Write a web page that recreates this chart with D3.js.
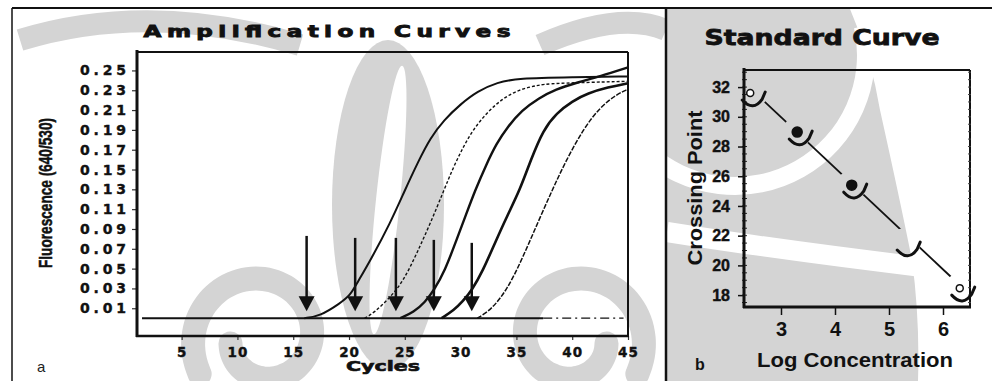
<!DOCTYPE html>
<html>
<head>
<meta charset="utf-8">
<script src="https://cdnjs.cloudflare.com/ajax/libs/d3/7.8.5/d3.min.js"></script>
<style>
  html, body { margin: 0; padding: 0; background: #fff; }
  svg { display: block; }
</style>
</head>
<body>
<div id="chart"></div>
<script>
// --- amplification curves: [cycle, fluorescence 640/530] ---
const curve1 = [[16.0, 0], [17.4, 0.002], [19.2, 0.015], [20.1, 0.023], [20.7, 0.035], [21.9, 0.058],
  [23.7, 0.096], [25.0, 0.129], [26.2, 0.158], [27.3, 0.182], [28.5, 0.200], [30.0, 0.216],
  [31.5, 0.229], [33.3, 0.238], [35.1, 0.242], [40.0, 0.243], [45.0, 0.244]];
const curve2 = [[21.4, 0], [22.2, 0.005], [23.7, 0.021], [24.9, 0.038], [26.1, 0.066], [27.3, 0.096],
  [28.5, 0.129], [29.3, 0.151], [30.2, 0.172], [31.1, 0.190], [32.4, 0.208], [33.8, 0.222],
  [35.3, 0.231], [36.9, 0.235], [38.0, 0.237], [45.0, 0.239]];
const curve3 = [[24.6, 0], [25.8, 0.006], [26.8, 0.016], [27.6, 0.028], [28.6, 0.048], [29.6, 0.078],
  [30.5, 0.105], [31.3, 0.129], [32.3, 0.155], [33.2, 0.176], [34.2, 0.193], [35.5, 0.210],
  [37.0, 0.222], [38.5, 0.231], [40.5, 0.238], [42.5, 0.244], [45.0, 0.253]];
const curve4 = [[28.3, 0], [29.4, 0.008], [30.2, 0.017], [31.0, 0.028], [32.0, 0.048], [33.0, 0.074],
  [34.2, 0.104], [35.3, 0.129], [36.3, 0.160], [37.4, 0.190], [38.6, 0.207], [40.0, 0.219],
  [41.4, 0.227], [43.2, 0.233], [45.0, 0.237]];
const curve5 = [[31.5, 0], [32.7, 0.008], [34.2, 0.029], [35.6, 0.062], [36.9, 0.096], [38.2, 0.129],
  [39.4, 0.158], [41.0, 0.191], [42.5, 0.213], [44.0, 0.226], [45.0, 0.231]];
const baselineSolid = [[1.45, 0], [37.4, 0]];
const baselineNeg = [[37.4, 0], [44.6, 0]];

// crossing-point arrows
const arrowCycles = [16.2, 20.55, 24.2, 27.6, 31.0];
const arrowTops = [0.083, 0.081, 0.081, 0.079, 0.076];
const arrowTip = 0.007;

const ampYTicks = [0.01, 0.03, 0.05, 0.07, 0.09, 0.11, 0.13, 0.15, 0.17, 0.19, 0.21, 0.23, 0.25];
const ampXTicks = [5, 10, 15, 20, 25, 30, 35, 40, 45];

// --- standard curve ---
const logConc = [2.43, 3.30, 4.31, 5.30, 6.31];
const crossingPoint = [31.6, 28.97, 25.4, 21.5, 18.47];
const markerKind = ['open', 'filled', 'filled', 'none', 'open'];
const fitEnds = [[2.70, 31.0], [6.17, 19.15]];
const stdYTicks = [18, 20, 22, 24, 26, 28, 30, 32];
const stdXTicks = [3, 4, 5, 6];

const W = 992, H = 381;
const svg = d3.select('#chart').append('svg')
  .attr('width', W).attr('height', H)
  .attr('xmlns', 'http://www.w3.org/2000/svg');
const defs = svg.append('defs');

const BOLD = 'DejaVu Sans, Verdana, sans-serif';
const ARIAL = 'Liberation Sans, Arial, sans-serif';
const INK = '#111';
const WATERMARK = '#d4d4d4';

// faint scanned watermark behind both panels (rough swirls)
function drawWatermark() {
  const g = svg.append('g').attr('class', 'watermark');
  const spiral = (cx, cy, dir) => {
    const pts = d3.range(0, 1.001, 0.02).map(t => {
      const a = (150 + t * 380) * Math.PI / 180;
      const r = 72 - t * 40;
      return [cx + dir * r * Math.cos(a), cy + r * Math.sin(a)];
    });
    return d3.line().curve(d3.curveBasis)(pts);
  };
  g.append('path').attr('d', spiral(262, 338, 1))
    .attr('fill', 'none').attr('stroke', WATERMARK).attr('stroke-width', 24).attr('stroke-linecap', 'round');
  g.append('path').attr('d', spiral(575, 338, -1))
    .attr('fill', 'none').attr('stroke', WATERMARK).attr('stroke-width', 24).attr('stroke-linecap', 'round');

  // central leaf with a white slit
  g.append('ellipse').attr('cx', 388).attr('cy', 205).attr('rx', 56).attr('ry', 165).attr('fill', WATERMARK);
  g.append('ellipse').attr('cx', 388).attr('cy', 200).attr('rx', 12).attr('ry', 135)
    .attr('transform', 'rotate(6,388,200)').attr('fill', '#fff');

  // sweeping bands near the top of the left panel
  g.append('path').attr('d', 'M20,40 Q150,0 300,45')
    .attr('fill', 'none').attr('stroke', WATERMARK).attr('stroke-width', 22);
  g.append('path').attr('d', 'M540,45 Q620,10 666,30')
    .attr('fill', 'none').attr('stroke', WATERMARK).attr('stroke-width', 22);

  // right panel: mostly grey on the left with white ribbons through it
  defs.append('clipPath').attr('id', 'right-panel')
    .append('rect').attr('x', 667).attr('y', 9).attr('width', W - 667).attr('height', H - 9);
  const r = g.append('g').attr('clip-path', 'url(#right-panel)');
  r.append('path')
    .attr('d', 'M667,9 L850,9 Q872,60 880,110 Q900,200 912,260 Q920,320 918,381 L667,381 Z')
    .attr('fill', WATERMARK);
  r.append('path')
    .attr('d', d3.arc()({ innerRadius: 122, outerRadius: 140, startAngle: 1.35, endAngle: 3.9 }))
    .attr('transform', 'translate(735,55)').attr('fill', '#fff');
  r.append('path').attr('d', 'M667,232 Q780,250 930,268')
    .attr('fill', 'none').attr('stroke', '#fff').attr('stroke-width', 20);
}

function drawFrame() {
  const g = svg.append('g').attr('class', 'frame').attr('stroke', INK);
  g.append('line').attr('x1', 12).attr('x2', W).attr('y1', 8).attr('y2', 8).attr('stroke-width', 2);
  g.append('line').attr('x1', 12).attr('x2', 12).attr('y1', 8).attr('y2', H).attr('stroke-width', 1.5);
  g.append('line').attr('x1', 666).attr('x2', 666).attr('y1', 8).attr('y2', H).attr('stroke-width', 2.5);
}

function drawAmplification() {
  const x = d3.scaleLinear().domain([1, 45]).range([137, 628]);
  const y = d3.scaleLinear().domain([-0.018, 0.2686]).range([336, 52]);
  const g = svg.append('g').attr('class', 'amplification');

  // plot box
  g.append('line').attr('x1', 137).attr('x2', 628).attr('y1', 52).attr('y2', 52).attr('stroke', INK).attr('stroke-width', 2);
  g.append('line').attr('x1', 628).attr('x2', 628).attr('y1', 52).attr('y2', 336).attr('stroke', INK).attr('stroke-width', 2);

  const yAxis = g.append('g')
    .attr('transform', 'translate(137,0)')
    .call(d3.axisLeft(y).tickValues(ampYTicks).tickSize(5).tickPadding(6).tickFormat(d3.format('.2f')));
  yAxis.select('.domain').remove();
  yAxis.selectAll('line').attr('stroke', '#333').attr('stroke-width', 1.2);
  yAxis.selectAll('text')
    .attr('font-family', BOLD).attr('font-weight', 'bold').attr('font-size', 14).attr('fill', INK)
    .attr('stroke', INK).attr('stroke-width', 0.4)
    .attr('textLength', 46).attr('lengthAdjust', 'spacing');

  const xAxis = g.append('g')
    .attr('transform', 'translate(0,336)')
    .call(d3.axisBottom(x).tickValues(ampXTicks).tickSize(4).tickPadding(7));
  xAxis.select('.domain').remove();
  xAxis.selectAll('line').attr('stroke', '#333').attr('stroke-width', 1.2);
  xAxis.selectAll('text')
    .attr('font-family', BOLD).attr('font-weight', 'bold').attr('font-size', 13.5).attr('fill', INK)
    .attr('stroke', INK).attr('stroke-width', 0.4)
    .attr('letter-spacing', 1);

  g.append('line').attr('x1', 137).attr('x2', 137).attr('y1', 50).attr('y2', 337).attr('stroke', INK).attr('stroke-width', 3);
  g.append('line').attr('x1', 136).attr('x2', 629).attr('y1', 336).attr('y2', 336).attr('stroke', INK).attr('stroke-width', 2.5);

  const line = d3.line().x(d => x(d[0])).y(d => y(d[1])).curve(d3.curveBasis);
  const series = [
    { pts: baselineSolid, w: 2, dash: null },
    { pts: baselineNeg, w: 1.2, dash: '9,4,2,4' },
    { pts: curve1, w: 2, dash: null },
    { pts: curve2, w: 1.4, dash: '3,2' },
    { pts: curve3, w: 2.4, dash: null },
    { pts: curve4, w: 2.6, dash: null },
    { pts: curve5, w: 1.5, dash: '5,1.5' }
  ];
  g.append('g').selectAll('path')
    .data(series)
    .join('path')
    .attr('d', d => line(d.pts))
    .attr('fill', 'none')
    .attr('stroke', INK)
    .attr('stroke-width', d => d.w)
    .attr('stroke-dasharray', d => d.dash);

  // arrows
  const arrows = g.append('g').selectAll('g')
    .data(arrowCycles.map((c, i) => ({ c: c, top: arrowTops[i] })))
    .join('g');
  arrows.append('line')
    .attr('x1', d => x(d.c)).attr('x2', d => x(d.c))
    .attr('y1', d => y(d.top)).attr('y2', y(arrowTip) - 10)
    .attr('stroke', INK).attr('stroke-width', 2.5);
  arrows.append('path')
    .attr('d', d => {
      const cx = x(d.c), ty = y(arrowTip);
      return `M${cx - 8},${ty - 15}L${cx + 8},${ty - 15}L${cx},${ty}Z`;
    })
    .attr('fill', INK);

  g.append('text').attr('transform', 'translate(327,37) scale(1.4,1)').attr('text-anchor', 'middle')
    .attr('font-family', BOLD).attr('font-weight', 'bold').attr('font-size', 16.5)
    .attr('stroke', INK).attr('stroke-width', 0.9)
    .attr('textLength', 262).attr('lengthAdjust', 'spacing').attr('fill', INK)
    .text('Amplification Curves');
  g.append('text').attr('x', 383).attr('y', 371).attr('text-anchor', 'middle')
    .attr('font-family', BOLD).attr('font-weight', 'bold').attr('font-size', 13.5)
    .attr('stroke', INK).attr('stroke-width', 0.6)
    .attr('textLength', 74).attr('lengthAdjust', 'spacingAndGlyphs').attr('fill', INK)
    .text('Cycles');
  g.append('text').attr('transform', 'translate(52,193) rotate(-90)').attr('text-anchor', 'middle')
    .attr('font-family', ARIAL).attr('font-weight', 'bold').attr('font-size', 18)
    .attr('stroke', INK).attr('stroke-width', 0.5)
    .attr('textLength', 150).attr('lengthAdjust', 'spacingAndGlyphs').attr('fill', INK)
    .text('Fluorescence (640/530)');
  g.append('text').attr('x', 37).attr('y', 372)
    .attr('font-family', ARIAL).attr('font-size', 15).attr('fill', '#222')
    .text('a');
}

function drawStandard() {
  const x = d3.scaleLinear().domain([2.315, 6.5]).range([744, 970]);
  const y = d3.scaleLinear().domain([17.2, 33.15]).range([307, 70]);
  const g = svg.append('g').attr('class', 'standard');

  g.append('line').attr('x1', 744).attr('x2', 970).attr('y1', 70).attr('y2', 70).attr('stroke', INK).attr('stroke-width', 2);
  g.append('line').attr('x1', 970).attr('x2', 970).attr('y1', 70).attr('y2', 307).attr('stroke', INK).attr('stroke-width', 2);

  const yAxis = g.append('g')
    .attr('transform', 'translate(744,0)')
    .call(d3.axisLeft(y).tickValues(stdYTicks).tickSize(6).tickPadding(8).tickFormat(d3.format('d')));
  yAxis.select('.domain').remove();
  yAxis.selectAll('line').attr('stroke', INK).attr('stroke-width', 1.5);
  yAxis.selectAll('text')
    .attr('font-family', ARIAL).attr('font-weight', 'bold').attr('font-size', 16).attr('fill', INK)
    .attr('stroke', INK).attr('stroke-width', 0.4);

  // minor ticks along both vertical axes
  const minor = d3.range(17.5, 33.01, 0.5);
  g.append('g').selectAll('line').data(minor).join('line')
    .attr('x1', 742).attr('x2', 747).attr('y1', d => y(d)).attr('y2', d => y(d))
    .attr('stroke', '#222').attr('stroke-width', 1);
  g.append('g').selectAll('line').data(minor).join('line')
    .attr('x1', 968).attr('x2', 971).attr('y1', d => y(d)).attr('y2', d => y(d))
    .attr('stroke', '#444').attr('stroke-width', 1);

  const xAxis = g.append('g')
    .attr('transform', 'translate(0,307)')
    .call(d3.axisBottom(x).tickValues(stdXTicks).tickSize(8).tickPadding(7).tickFormat(d3.format('d')));
  xAxis.select('.domain').remove();
  xAxis.selectAll('line').attr('stroke', INK).attr('stroke-width', 1.5);
  xAxis.selectAll('text')
    .attr('font-family', ARIAL).attr('font-weight', 'bold').attr('font-size', 20).attr('fill', INK);

  g.append('line').attr('x1', 744).attr('x2', 744).attr('y1', 68).attr('y2', 308).attr('stroke', INK).attr('stroke-width', 3);
  g.append('line').attr('x1', 743).attr('x2', 971).attr('y1', 307).attr('y2', 307).attr('stroke', INK).attr('stroke-width', 3);

  const pts = logConc.map((c, i) => ({ px: x(c), py: y(crossingPoint[i]), kind: markerKind[i] }));

  // fit line, broken around every point
  const mask = defs.append('mask').attr('id', 'fit-gaps');
  mask.append('rect').attr('x', 0).attr('y', 0).attr('width', W).attr('height', H).attr('fill', '#fff');
  mask.selectAll('circle').data(pts).join('circle')
    .attr('cx', d => d.px).attr('cy', d => d.py).attr('r', 15).attr('fill', '#000');
  g.append('line')
    .attr('x1', x(fitEnds[0][0])).attr('y1', y(fitEnds[0][1]))
    .attr('x2', x(fitEnds[1][0])).attr('y2', y(fitEnds[1][1]))
    .attr('stroke', INK).attr('stroke-width', 1.8)
    .attr('mask', 'url(#fit-gaps)');

  // cup-shaped error marks under each point
  g.append('g').selectAll('path').data(pts).join('path')
    .attr('d', d => `M${d.px - 8},${d.py + 7}Q${d.px + 3},${d.py + 19} ${d.px + 12},${d.py + 6}L${d.px + 15},${d.py - 1}`)
    .attr('fill', 'none').attr('stroke', INK).attr('stroke-width', 3).attr('stroke-linecap', 'round');

  g.append('g').selectAll('circle').data(pts.filter(d => d.kind !== 'none')).join('circle')
    .attr('cx', d => d.px).attr('cy', d => d.py)
    .attr('r', d => d.kind === 'filled' ? 5 : 3.5)
    .attr('fill', d => d.kind === 'filled' ? INK : '#fff')
    .attr('stroke', INK).attr('stroke-width', 1.5);

  g.append('text').attr('x', 822).attr('y', 45).attr('text-anchor', 'middle')
    .attr('font-family', BOLD).attr('font-weight', 'bold').attr('font-size', 22)
    .attr('stroke', INK).attr('stroke-width', 0.8)
    .attr('textLength', 235).attr('lengthAdjust', 'spacingAndGlyphs').attr('fill', INK)
    .text('Standard Curve');
  g.append('text').attr('transform', 'translate(702,188) rotate(-90)').attr('text-anchor', 'middle')
    .attr('font-family', ARIAL).attr('font-weight', 'bold').attr('font-size', 20)
    .attr('textLength', 155).attr('lengthAdjust', 'spacingAndGlyphs').attr('fill', INK)
    .text('Crossing Point');
  g.append('text').attr('x', 855).attr('y', 367).attr('text-anchor', 'middle')
    .attr('font-family', ARIAL).attr('font-weight', 'bold').attr('font-size', 20)
    .attr('textLength', 196).attr('lengthAdjust', 'spacingAndGlyphs').attr('fill', INK)
    .text('Log Concentration');
  g.append('text').attr('x', 695).attr('y', 370)
    .attr('font-family', ARIAL).attr('font-weight', 'bold').attr('font-size', 16).attr('fill', INK)
    .text('b');
}

drawWatermark();
drawFrame();
drawAmplification();
drawStandard();
</script>
</body>
</html>
